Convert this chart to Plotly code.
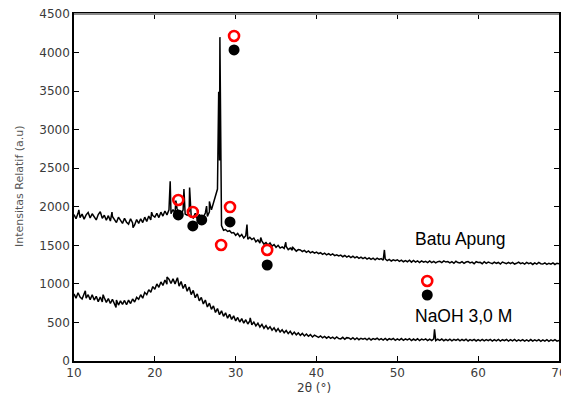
import plotly.graph_objects as go

# 2-theta sampling grid of the scans (deg)
two_theta = [round(10 + 0.25 * i, 2) for i in range(241)]

# Batu Apung scan (intensity, a.u.) on the grid
batu_apung = [
    1900, 1845, 1915, 1860, 1905, 1840, 1895, 1925,
    1855, 1910, 1865, 1830, 1900, 1935, 1850, 1890,
    1825, 1885, 1815, 1875, 1835, 1795, 1865, 1820,
    1785, 1850, 1800, 1775, 1845, 1790, 1765, 1835,
    1785, 1845, 1795, 1865, 1810, 1880, 1830, 1885,
    1865, 1915, 1860, 1930, 1880, 1945, 1895, 1960,
    1910, 1965, 1915, 1975, 1920, 1900, 1960, 1905,
    1890, 1945, 1875, 1855, 1915, 1845, 1900, 1855,
    1865, 1920, 1875, 1935, 1960, 2050, 2150, 2230,
    2600, 1755, 1695, 1705, 1680, 1690, 1660, 1665,
    1630, 1655, 1615, 1640, 1595, 1625, 1580, 1605,
    1575, 1595, 1545, 1570, 1530, 1555, 1515, 1535,
    1505, 1530, 1490, 1510, 1475, 1500, 1465, 1480,
    1460, 1485, 1445, 1465, 1435, 1455, 1425, 1445,
    1440, 1420, 1435, 1410, 1428, 1402, 1418, 1398,
    1412, 1392, 1404, 1383, 1398, 1377, 1393, 1372,
    1388, 1367, 1378, 1362, 1373, 1352, 1368, 1347,
    1362, 1342, 1358, 1337, 1353, 1332, 1348, 1327,
    1343, 1322, 1338, 1317, 1333, 1312, 1333, 1317,
    1328, 1307, 1323, 1302, 1318, 1297, 1313, 1302,
    1313, 1292, 1308, 1287, 1303, 1287, 1308, 1282,
    1303, 1282, 1298, 1277, 1298, 1282, 1293, 1277,
    1298, 1277, 1293, 1272, 1288, 1293, 1277, 1298,
    1283, 1290, 1272, 1288, 1267, 1293, 1277, 1272,
    1288, 1267, 1283, 1290, 1272, 1283, 1262, 1288,
    1278, 1280, 1262, 1288, 1267, 1283, 1272, 1262,
    1283, 1267, 1278, 1257, 1283, 1267, 1262, 1278,
    1262, 1278, 1257, 1267, 1283, 1262, 1272, 1257,
    1278, 1262, 1272, 1252, 1273, 1257, 1278, 1262,
    1257, 1273, 1252, 1268, 1257, 1273, 1252, 1268,
    1260,
]

# sharp reflections of Batu Apung (2-theta, intensity)
batu_peak_x = [10.6, 14.7, 17.3, 19.6, 21.9, 22.6, 23.6, 24.3, 26.4, 26.75,
               27.9, 28.05, 28.15, 31.4, 33.1, 36.2, 37.0, 48.4]
batu_peak_y = [1960, 1930, 1730, 1930, 2330, 2080, 2230, 2250, 2010, 2070,
               3490, 4200, 2300, 1770, 1600, 1540, 1480, 1440]

# NaOH 3,0 M scan (intensity, a.u.) on the grid
naoh = [
    870, 815, 885, 830, 805, 875, 815, 860,
    795, 860, 790, 840, 770, 830, 765, 820,
    760, 810, 745, 800, 735, 790, 725, 780,
    735, 785, 730, 790, 745, 805, 765, 825,
    800, 860, 815, 890, 860, 925, 890, 965,
    930, 1000, 955, 1025, 980, 1050, 995, 1060,
    1005, 1065, 1000, 1055, 970, 1030, 940, 995,
    905, 960, 860, 915, 820, 870, 780, 825,
    740, 790, 700, 750, 670, 715, 630, 680,
    600, 650, 580, 625, 555, 605, 540, 585,
    520, 565, 505, 550, 490, 535, 480, 520,
    470, 505, 455, 490, 440, 475, 425, 460,
    415, 445, 400, 430, 385, 420, 375, 405,
    365, 395, 355, 385, 345, 375, 340, 365,
    332, 358, 325, 350, 320, 342, 312, 336,
    320, 306, 326, 301, 319, 296, 316, 294,
    309, 288, 312, 291, 286, 307, 283, 303,
    299, 280, 302, 278, 298, 276, 295, 284,
    293, 275, 296, 273, 291, 280, 295, 274,
    290, 272, 293, 270, 289, 277, 292, 269,
    287, 271, 291, 268, 286, 274, 289, 266,
    285, 267, 288, 265, 284, 272, 287, 264,
    283, 266, 286, 264, 282, 268, 285, 263,
    281, 264, 284, 262, 280, 266, 283, 262,
    279, 263, 282, 260, 278, 265, 281, 260,
    278, 262, 281, 260, 277, 264, 280, 259,
    277, 261, 280, 259, 276, 263, 279, 258,
    276, 260, 279, 258, 275, 262, 278, 257,
    275, 259, 278, 257, 274, 261, 277, 256,
    274, 258, 277, 256, 273, 260, 276, 257,
    268,
]

naoh_peak_x = [11.4, 13.6, 15.2, 21.5, 22.8, 31.8, 54.6]
naoh_peak_y = [910, 860, 695, 1090, 1080, 560, 410]

# phase markers (2-theta, intensity)
open_marker_x = [29.8, 22.9, 24.7, 29.3, 28.2, 33.9, 53.7]
open_marker_y = [4215, 2088, 1933, 1997, 1505, 1440, 1038]
filled_marker_x = [29.8, 22.9, 24.7, 25.8, 29.3, 33.9, 53.7]
filled_marker_y = [4034, 1894, 1751, 1829, 1803, 1245, 856]

x_ticks = [10, 20, 30, 40, 50, 60, 70]
y_ticks = [0, 500, 1000, 1500, 2000, 2500, 3000, 3500, 4000, 4500]


def merge(gx, gy, px, py):
    pts = sorted(list(zip(gx, gy)) + list(zip(px, py)), key=lambda p: p[0])
    return [p[0] for p in pts], [p[1] for p in pts]


bx, by = merge(two_theta, batu_apung, batu_peak_x, batu_peak_y)
nx, ny = merge(two_theta, naoh, naoh_peak_x, naoh_peak_y)

fig = go.Figure()
fig.add_trace(go.Scatter(x=bx, y=by, mode="lines",
                         line=dict(color="black", width=1.5), showlegend=False))
fig.add_trace(go.Scatter(x=nx, y=ny, mode="lines",
                         line=dict(color="black", width=1.5), showlegend=False))
fig.add_trace(go.Scatter(x=open_marker_x, y=open_marker_y, mode="markers",
                         marker=dict(symbol="circle-open", size=10, color="red",
                                     line=dict(color="red", width=2.6)),
                         showlegend=False))
fig.add_trace(go.Scatter(x=filled_marker_x, y=filled_marker_y, mode="markers",
                         marker=dict(symbol="circle", size=11, color="black"),
                         showlegend=False))

tick_font = dict(family="DejaVu Sans", size=12, color="#3a3a3a")
fig.update_xaxes(range=[10, 70], tickvals=x_ticks, ticks="inside", ticklen=5,
                 tickcolor="black", showline=True, linecolor="black", linewidth=1.5,
                 mirror="ticks", showgrid=False, zeroline=False, tickfont=tick_font,
                 automargin=False, ticklabeloverflow="allow")
fig.update_yaxes(range=[0, 4500], tickvals=y_ticks, ticks="inside", ticklen=5,
                 tickcolor="black", showline=True, linecolor="black", linewidth=1.5,
                 mirror="ticks", showgrid=False, zeroline=False, tickfont=tick_font,
                 automargin=False, ticklabeloverflow="allow")

fig.add_shape(type="line", xref="paper", yref="paper", x0=0, x1=1, y0=1, y1=1,
              line=dict(color="#8a8a8a", width=2))

fig.add_annotation(text="Batu Apung", xref="paper", yref="paper",
                   x=(413 - 74) / 485, y=(361 - 239) / 347, xanchor="left", yanchor="middle",
                   showarrow=False, font=dict(family="Liberation Sans, Arial", size=17.5, color="black"))
fig.add_annotation(text="NaOH 3,0 M", xref="paper", yref="paper",
                   x=(413 - 74) / 485, y=(361 - 315.5) / 347, xanchor="left", yanchor="middle",
                   showarrow=False, font=dict(family="Liberation Sans, Arial", size=17.5, color="black"))
fig.add_annotation(text="Intensitas Relatif (a.u)", xref="paper", yref="paper",
                   x=(19 - 74) / 485, y=(361 - 186) / 347, xanchor="center", yanchor="middle",
                   textangle=-90, showarrow=False,
                   font=dict(family="DejaVu Sans", size=11, color="#555555"))
fig.add_annotation(text="2θ (°)", xref="paper", yref="paper",
                   x=(314 - 74) / 485, y=(361 - 388) / 347, xanchor="center", yanchor="middle",
                   showarrow=False, font=dict(family="DejaVu Sans", size=12, color="#3a3a3a"))

# the page body adds an 8 px offset, so the figure is 8 px smaller on each side
fig.update_layout(width=561, height=390, margin=dict(l=66, r=10, t=6, b=37),
                  plot_bgcolor="white", paper_bgcolor="white")

fig.write_html("out.html")
